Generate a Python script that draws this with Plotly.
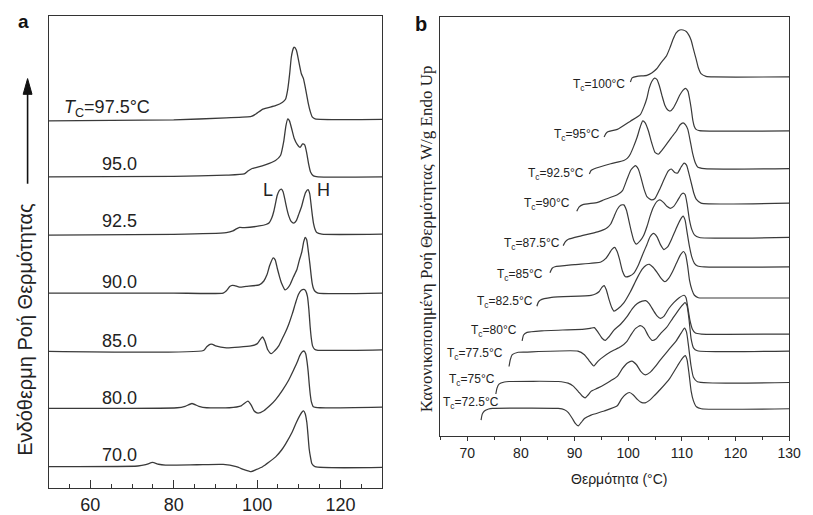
import plotly.graph_objects as go

W, H = 813, 515
FONT = "Liberation Sans, Arial, sans-serif"
SERIF = "Liberation Serif, Times New Roman, serif"
LINE = "#3a3a3a"
TXT = "#222222"

# ---------------- Panel a : temperature (°C) and offset heat flow (a.u.) ----------------
a975_T = [50, 80, 92.6, 98.6, 99.7, 101.4, 104.4, 106.1, 106.8, 107.3, 107.8, 108.2, 108.7, 108.9, 109.4, 110.0, 110.6, 111.1, 111.5, 111.9, 112.3, 112.7, 113.2, 113.9, 130]
a975_h = [374, 375, 377, 378.5, 381, 386, 389.5, 393, 396, 405, 422, 439, 448, 449, 446, 434, 422, 417, 409, 400, 391, 384, 378, 376, 375.5]

a950_T = [50, 80, 92.6, 96.9, 97.8, 98.8, 99.7, 102.1, 104.4, 105.6, 106.4, 106.9, 107.35, 107.75, 108.4, 108.9, 109.6, 110.3, 110.9, 111.4, 111.9, 112.35, 112.8, 113.5, 114.6, 130]
a950_h = [317, 317.5, 318.7, 320, 323, 325.5, 326.5, 329.5, 333.7, 338.7, 353.7, 369, 376, 374, 364, 356, 350, 347, 350.5, 349.5, 341, 330, 322, 318, 317, 317]

a925_T = [50, 80, 92.6, 94.2, 95.0, 95.8, 97.0, 100.5, 102.1, 102.9, 103.5, 104.0, 104.4, 104.8, 105.3, 105.8, 106.2, 106.6, 107.1, 107.6, 108.1, 108.8, 109.4, 109.9, 110.6, 111.1, 111.6, 112.2, 112.6, 112.9, 113.2, 113.5, 113.9, 114.3, 115.5, 130]
a925_h = [257.7, 258.5, 260.3, 262, 264, 265.5, 265.3, 267, 268.5, 270.3, 275, 282, 290, 298, 303, 304.5, 302, 295, 285, 277, 272, 270, 272.5, 278, 286, 294, 301, 304, 300, 290, 279, 270, 263.5, 260.3, 258.7, 258.7]

a900_T = [50, 80, 91.86, 92.64, 93.42, 94.06, 94.6, 95.78, 97.36, 100.5, 101.61, 102.32, 103.03, 103.85, 104.33, 104.84, 105.39, 105.86, 106.69, 107.27, 107.98, 108.69, 109.56, 110.11, 110.7, 111.17, 111.52, 111.88, 112.3, 112.63, 112.94, 113.22, 113.48, 113.88, 114.59, 130]
a900_h = [198.7, 198.7, 198.7, 201, 205.3, 206.5, 206.3, 204.7, 205.5, 207, 211, 217, 227, 234.5, 232.5, 223.7, 215, 208.7, 202, 203.5, 208, 215, 223, 232, 240.3, 251, 255.3, 253, 240.3, 229, 217, 208, 203.7, 200.5, 198.7, 198.7]

a850_T = [50, 87.14, 87.92, 88.7, 89.34, 90.05, 92.64, 98.54, 99.96, 100.67, 101.26, 101.85, 102.55, 103.38, 104.21, 105.22, 106.09, 106.8, 107.58, 108.46, 109.16, 109.87, 110.58, 111.22, 111.64, 112.07, 112.4, 112.7, 113.01, 113.29, 113.77, 114.59, 130]
a850_h = [139.3, 140.3, 144, 146.5, 146.5, 145, 143, 145, 147, 151, 154, 150, 141, 137, 140, 145.3, 153, 159, 167, 178, 188, 197, 201.5, 202.5, 201, 195, 182, 165, 152, 145, 141.5, 140.5, 141]

a800_T = [50, 80.84, 82.73, 84.38, 86.04, 87.92, 93.35, 96.18, 97.76, 98.54, 99.25, 100.19, 101.61, 103.26, 104.44, 106.09, 107.58, 108.69, 109.56, 110.22, 110.82, 111.29, 111.64, 111.92, 112.23, 112.47, 112.75, 113.01, 113.48, 115.06, 130]
a800_h = [81.3, 82, 83.5, 86.3, 83.5, 82, 82, 84, 88.7, 85, 79, 76.5, 79, 85, 90.3, 100, 110.3, 120, 128, 135, 139, 139.7, 137, 130.3, 119, 107, 95, 88, 83, 82, 82.7]

a700_T = [50, 71.4, 73.29, 74.94, 76.36, 78.01, 85.56, 91.86, 95.0, 96.89, 98.54, 99.72, 101.3, 102.79, 104.44, 105.86, 106.8, 108.38, 109.4, 110.22, 110.82, 111.12, 111.52, 111.92, 112.18, 112.47, 112.82, 113.1, 113.88, 130]
a700_h = [22, 22.7, 24, 26.3, 24.5, 23.7, 24, 24.3, 22, 19, 17, 19, 22, 26.5, 32, 39, 45, 57, 67, 74, 78, 78.7, 76, 67, 55, 40.3, 31, 25.3, 22, 21.3]

a_labels = ["<i>T</i><sub>C</sub>=97.5°C", "95.0", "92.5", "90.0", "85.0", "80.0", "70.0"]
a_label_T = [53.2, 62.4, 62.4, 62.4, 62.4, 62.4, 62.4]
a_label_h = [387, 330, 272, 210, 150, 92, 34]

# ---------------- Panel b ----------------
b1000_T = [100.41, 100.72, 101.64, 103.48, 104.45, 105.31, 106.10, 107.15, 107.75, 108.36, 108.94, 109.59, 110.23, 110.82, 111.33, 111.73, 112.16, 112.65, 113.07, 113.57, 114.49, 116.01, 130]
b1000_h = [360.5, 364.7, 366.3, 367.3, 370, 374, 380, 387.3, 395, 404, 410.5, 413.5, 413.5, 412, 408, 403, 394, 384, 375, 369, 366.3, 365.7, 365.7]

b950_T = [95.51, 95.83, 96.19, 97.97, 100.41, 102.25, 102.98, 103.48, 103.90, 104.39, 104.91, 105.37, 105.79, 106.28, 106.83, 107.39, 107.84, 108.39, 108.98, 109.59, 110.19, 110.69, 111.15, 111.42, 111.73, 112.03, 112.34, 112.65, 113.26, 130]
b950_h = [304.5, 308, 310, 312.3, 320.7, 327.3, 336, 344, 354, 361, 364.5, 363, 357, 347, 337, 332, 331, 334, 340, 347, 352, 354, 351, 344, 334, 322, 315, 312.3, 311, 310.7]

b925_T = [92.76, 93.07, 93.68, 96.74, 99.18, 99.86, 100.41, 101.02, 101.64, 102.25, 102.71, 103.17, 103.77, 104.36, 104.99, 105.61, 106.28, 107.15, 108.03, 108.98, 109.68, 110.23, 110.69, 111.11, 111.51, 112.03, 112.52, 112.94, 114.17, 130]
b925_h = [267, 270.5, 272.3, 277.3, 280.7, 283, 287.3, 295, 304, 315, 321, 319, 310.7, 299, 289, 287, 291, 297.3, 304, 310.7, 317, 319, 317, 312.3, 302, 287.3, 278, 274, 272.3, 272.3]

b900_T = [90.41, 90.87, 91.55, 94.30, 95.51, 97.97, 98.94, 99.81, 100.50, 101.33, 101.88, 102.34, 102.98, 103.53, 104.36, 104.99, 105.92, 106.65, 107.48, 108.03, 108.67, 109.22, 109.86, 110.41, 110.87, 111.33, 111.79, 112.25, 112.71, 113.57, 130]
b900_h = [229, 233.5, 235.7, 238, 240.7, 245.7, 250, 262, 271, 275.5, 272, 264, 251, 243.5, 240.5, 242, 252, 261, 270, 272, 268.5, 268, 274, 278, 276, 267, 257, 247, 241, 237.3, 237.3]

b875_T = [87.88, 88.30, 88.85, 91.24, 94.30, 96.01, 96.74, 97.39, 97.97, 98.58, 99.18, 99.68, 100.10, 100.60, 101.06, 101.51, 102.25, 102.85, 103.53, 104.08, 104.69, 105.37, 105.92, 106.56, 107.20, 107.84, 108.49, 109.22, 109.86, 110.23, 110.60, 110.96, 111.42, 111.88, 112.34, 113.26, 130]
b875_h = [194, 198, 200.5, 204, 208, 212, 216, 224, 231, 235, 235.5, 230, 220, 208, 199, 195.5, 199, 204, 214, 224, 233, 239, 240.5, 238, 234, 232, 234, 240, 246, 247.5, 246, 237, 220, 210, 205, 202.3, 202.3]

b850_T = [85.42, 85.83, 86.34, 90.01, 94.91, 95.83, 96.43, 96.93, 97.48, 97.94, 98.39, 98.94, 99.50, 100.23, 101.02, 101.88, 102.85, 103.48, 104.08, 104.72, 105.37, 106.01, 106.65, 107.39, 108.12, 108.98, 109.68, 110.23, 110.60, 110.96, 111.42, 111.88, 112.34, 112.94, 114.17, 130]
b850_h = [166.5, 171, 172.5, 174.7, 177.3, 181, 185.7, 190, 192.3, 188, 180, 168, 162.3, 163, 165.7, 174, 187, 195, 203, 206.5, 203, 195, 190, 193, 201, 212, 220, 224, 220, 208, 193, 182, 176, 173.3, 172.3, 172.3]

b825_T = [82.98, 83.26, 83.59, 85.73, 93.07, 93.99, 94.60, 95.09, 95.51, 95.92, 96.43, 96.93, 97.35, 98.03, 99.18, 100.41, 101.64, 102.61, 103.35, 103.95, 104.63, 105.31, 106.10, 106.83, 107.57, 108.30, 108.98, 109.68, 110.32, 110.69, 111.06, 111.42, 111.88, 112.34, 113.07, 114.17, 130]
b825_h = [132.3, 136.5, 138.5, 141.3, 143.3, 145, 147.3, 151.5, 153.3, 149, 139, 131, 127.3, 129.5, 135.7, 147, 160.7, 170, 174, 175, 172, 167.3, 161, 157.3, 161, 168, 176, 184, 188, 185, 174, 159, 149, 143.5, 141, 140.7, 140.7]

b800_T = [80.23, 80.50, 81.15, 83.90, 91.84, 93.07, 93.68, 94.36, 95.09, 95.73, 96.38, 97.35, 98.58, 99.81, 100.78, 101.70, 102.61, 103.26, 103.90, 104.69, 105.37, 106.01, 106.65, 107.57, 108.49, 109.50, 110.41, 110.78, 111.11, 111.51, 111.97, 112.52, 113.62, 130]
b800_h = [97, 103, 105.7, 107.3, 109, 110, 110.5, 106, 100, 97.5, 101, 108, 114, 122, 130, 135, 137.5, 138, 135, 128, 122.5, 120, 122, 130, 136, 141, 143.5, 141, 131, 118, 109, 105, 104, 104]

b775_T = [77.79, 78.03, 78.39, 79.50, 80.83, 90.63, 91.84, 92.71, 93.57, 94.30, 94.91, 96.74, 98.58, 99.68, 100.60, 101.33, 102.25, 102.98, 103.77, 104.45, 105.18, 106.10, 107.15, 108.30, 109.59, 110.60, 110.96, 111.33, 111.73, 112.16, 112.89, 130]
b775_h = [71, 78, 83, 85.5, 85.7, 86.7, 83, 77, 71.5, 76, 79, 86, 91, 96, 104, 109.5, 112.5, 110, 102, 97.5, 99, 105, 110.7, 120, 130, 136, 133, 119, 99, 90, 87, 86.7]

b750_T = [75.33, 75.55, 75.92, 76.93, 77.79, 86.96, 88.80, 89.77, 90.69, 91.42, 91.97, 92.52, 93.07, 94.30, 95.51, 96.74, 97.97, 98.94, 99.86, 100.69, 101.51, 102.34, 103.17, 104.08, 104.99, 105.92, 107.39, 108.98, 109.86, 110.50, 110.87, 111.24, 111.70, 112.16, 112.89, 130]
b750_h = [43, 49, 53, 55.2, 55.7, 55.7, 54, 51, 45.5, 41, 39, 42, 45.7, 49, 52.5, 56.5, 61, 69, 74.5, 76.5, 73, 66, 62.5, 65, 70.5, 77.3, 87, 97.3, 105, 110, 106, 92, 72, 60, 55.5, 54.7]

b725_T = [72.58, 72.80, 73.20, 73.99, 74.72, 86.96, 88.12, 88.85, 89.59, 90.14, 90.69, 91.24, 91.84, 93.07, 95.51, 97.97, 98.76, 99.50, 100.23, 100.96, 101.70, 102.43, 103.17, 104.08, 104.99, 105.92, 107.75, 109.22, 110.05, 110.63, 110.96, 111.33, 111.73, 112.16, 112.71, 113.62, 130]
b725_h = [16.5, 22.5, 25.7, 27.7, 28.3, 28.3, 27, 24, 18, 13, 10.5, 14, 18, 21.5, 25.7, 31, 38, 42.5, 44.5, 42, 37.5, 34.5, 34, 37, 42, 47.3, 59, 72, 79, 82, 78, 64, 46, 36, 30, 28, 28]

b_labels = ["100", "95", "92.5", "90", "87.5", "85", "82.5", "80", "77.5", "75", "72.5"]
b_label_T = [99.7, 95.1, 92.2, 89.6, 87.6, 84.5, 82.6, 79.7, 77.1, 75.6, 76.2]
b_label_h = [357, 307, 267, 236, 196, 164, 137, 107, 84, 57, 34]

curves_a = [(a975_T, a975_h), (a950_T, a950_h), (a925_T, a925_h), (a900_T, a900_h),
            (a850_T, a850_h), (a800_T, a800_h), (a700_T, a700_h)]
curves_b = [(b1000_T, b1000_h), (b950_T, b950_h), (b925_T, b925_h), (b900_T, b900_h),
            (b875_T, b875_h), (b850_T, b850_h), (b825_T, b825_h), (b800_T, b800_h),
            (b775_T, b775_h), (b750_T, b750_h), (b725_T, b725_h)]

fig = go.Figure()
for T, h in curves_a:
    fig.add_trace(go.Scatter(x=T, y=h, mode="lines", xaxis="x", yaxis="y",
                             line=dict(color=LINE, width=1.3, shape="spline", smoothing=0.5),
                             hoverinfo="skip", showlegend=False))
for T, h in curves_b:
    fig.add_trace(go.Scatter(x=T, y=h, mode="lines", xaxis="x2", yaxis="y2",
                             line=dict(color=LINE, width=1.2, shape="spline", smoothing=0.5),
                             hoverinfo="skip", showlegend=False))


def px(x):
    return x / W


def py(y):
    return 1 - y / H


annotations = []
for txt, t, h in zip(a_labels, a_label_T, a_label_h):
    annotations.append(dict(x=t, y=h, xref="x", yref="y", text=txt, showarrow=False,
                            xanchor="left", yanchor="middle",
                            font=dict(family=FONT, size=18, color=TXT)))
annotations.append(dict(x=102.55, y=304, xref="x", yref="y", text="L", showarrow=False,
                        font=dict(family=FONT, size=18, color=TXT)))
annotations.append(dict(x=115.8, y=304, xref="x", yref="y", text="H", showarrow=False,
                        font=dict(family=FONT, size=18, color=TXT)))
for txt, t, h in zip(b_labels, b_label_T, b_label_h):
    annotations.append(dict(x=t, y=h, xref="x2", yref="y2", text="T<sub>c</sub>=" + txt + "°C",
                            showarrow=False, xanchor="right", yanchor="middle",
                            font=dict(family=FONT, size=12, color=TXT)))

# panel letters and axis titles
annotations.append(dict(x=px(24), y=py(22), xref="paper", yref="paper", text="<b>a</b>",
                        showarrow=False, xanchor="center", yanchor="middle",
                        font=dict(family=FONT, size=19, color="#111")))
annotations.append(dict(x=px(427), y=py(24), xref="paper", yref="paper", text="<b>b</b>",
                        showarrow=False, xanchor="center", yanchor="middle",
                        font=dict(family=FONT, size=20, color="#111")))
annotations.append(dict(x=px(26), y=py(335), xref="paper", yref="paper",
                        text="Ενδόθερμη Ροή Θερμότητας", textangle=-90, showarrow=False,
                        xanchor="center", yanchor="middle",
                        font=dict(family=FONT, size=20, color=TXT)))
annotations.append(dict(x=px(433), y=py(243), xref="paper", yref="paper",
                        text="Κανονικοποιημένη Ροή Θερμότητας W/g Endo Up", textangle=-90,
                        showarrow=False, xanchor="center", yanchor="middle",
                        font=dict(family=SERIF, size=17, color=TXT)))
annotations.append(dict(x=px(628), y=py(488), xref="paper", yref="paper",
                        text="Θερμότητα (°C)", showarrow=False,
                        xanchor="center", yanchor="middle",
                        font=dict(family=FONT, size=14, color=TXT)))

shapes = [
    dict(type="line", xref="paper", yref="paper", x0=px(28), x1=px(28), y0=py(187), y1=py(92),
         line=dict(color="#111", width=1.6)),
    dict(type="path", xref="paper", yref="paper",
         path=f"M {px(23.5)},{py(96)} L {px(32.5)},{py(96)} L {px(28)},{py(80)} Z",
         fillcolor="#111", line=dict(color="#111", width=1)),
]

AX = "#333333"
fig.update_layout(
    width=W, height=H, autosize=False,
    margin=dict(l=0, r=0, t=0, b=0),
    paper_bgcolor="white", plot_bgcolor="white",
    showlegend=False,
    annotations=annotations, shapes=shapes,
    xaxis=dict(domain=[49.3 / W, 388 / W], range=[50, 130], anchor="y",
               showline=True, linecolor=AX, linewidth=1.2, mirror=True,
               ticks="inside", ticklen=8, tickwidth=1, tickcolor=AX,
               tick0=60, dtick=20, showgrid=False, zeroline=False,
               minor=dict(ticks="inside", ticklen=4, tickwidth=1, tickcolor=AX, tick0=50, dtick=5, showgrid=False),
               tickfont=dict(family=FONT, size=18, color=TXT)),
    yaxis=dict(domain=[1 - 497 / H, 1 - 16 / H], range=[0, 481], anchor="x",
               showline=True, linecolor=AX, linewidth=1.2, mirror=True,
               ticks="", showticklabels=False, showgrid=False, zeroline=False),
    xaxis2=dict(domain=[447 / W, 801 / W], range=[65, 130], anchor="y2",
                showline=True, linecolor=AX, linewidth=1.2, mirror=True,
                ticks="outside", ticklen=4, tickwidth=1, tickcolor=AX,
                tick0=70, dtick=10, showgrid=False, zeroline=False,
                minor=dict(ticks="outside", ticklen=3, tickwidth=1, tickcolor=AX, tick0=65, dtick=5, showgrid=False),
                tickfont=dict(family=FONT, size=14, color=TXT)),
    yaxis2=dict(domain=[1 - 444 / H, 1 - 17 / H], range=[0, 427], anchor="x2",
                showline=True, linecolor=AX, linewidth=1.2, mirror=True,
                ticks="", showticklabels=False, showgrid=False, zeroline=False),
)

fig.write_html("out.html",
               config={"displayModeBar": False},
               post_script="document.body.style.margin='0px';document.body.style.overflow='hidden';")
